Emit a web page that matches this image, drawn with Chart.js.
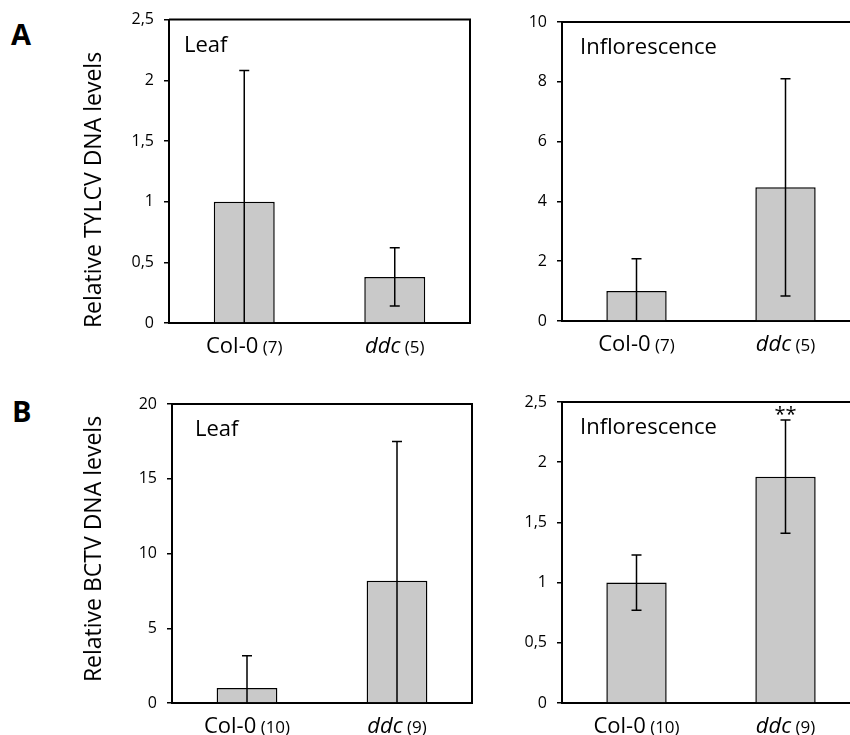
<!DOCTYPE html>
<html>
<head>
<meta charset="utf-8">
<script src="https://cdn.jsdelivr.net/npm/chart.js@4"></script>
<style>
  html, body { margin: 0; padding: 0; background: #fff; overflow: hidden; }
  body { width: 850px; height: 735px; position: relative; }
  canvas { position: absolute; }
  .letter { position: absolute; font: bold 29px "Open Sans"; line-height: 1; color: #000; }
</style>
</head>
<body>
<div class="letter" style="left:11px;top:19px">A</div>
<div class="letter" style="left:12px;top:396px">B</div>
<canvas id="tylcvLeaf" width="480" height="367" style="left:0;top:0"></canvas>
<canvas id="tylcvInfl" width="390" height="367" style="left:480px;top:0"></canvas>
<canvas id="bctvLeaf" width="480" height="368" style="left:0;top:367px"></canvas>
<canvas id="bctvInfl" width="390" height="368" style="left:480px;top:367px"></canvas>
<script>
const sampleLabels = ["Col-0", "ddc"];
const tylcvCounts = [7, 5];
const bctvCounts = [10, 9];

const tylcvLeafMeans = [1, 0.38];
const tylcvLeafErrors = [1.08, 0.24];
const tylcvInflMeans = [1, 4.47];
const tylcvInflErrors = [1.08, 3.63];
const bctvLeafMeans = [1, 8.17];
const bctvLeafErrors = [2.16, 9.33];
const bctvInflMeans = [1, 1.88];
const bctvInflErrors = [0.23, 0.47];
const bctvInflMarks = ["", "**"];

const tylcvLeafTicks = [0, 0.5, 1, 1.5, 2, 2.5];
const tylcvInflTicks = [0, 2, 4, 6, 8, 10];
const bctvLeafTicks = [0, 5, 10, 15, 20];
const bctvInflTicks = [0, 0.5, 1, 1.5, 2, 2.5];

Chart.defaults.font.family = "Open Sans";
Chart.defaults.color = "#000";

const FONT = "Open Sans";

function drawPanel(id, p) {
    const extras = {
        id: "extras",
        afterDatasetsDraw(chart) {
            const ctx = chart.ctx;
            const y = chart.scales.y;
            const meta = chart.getDatasetMeta(0);
            ctx.save();
            ctx.strokeStyle = "#000";
            ctx.lineWidth = 1.5;
            meta.data.forEach((bar, i) => {
                const hi = p.means[i] + p.errors[i];
                const lo = Math.max(0, p.means[i] - p.errors[i]);
                const yHi = y.getPixelForValue(hi);
                const yLo = y.getPixelForValue(lo);
                ctx.beginPath();
                ctx.moveTo(bar.x, yHi);
                ctx.lineTo(bar.x, yLo);
                ctx.moveTo(bar.x - 5, yHi);
                ctx.lineTo(bar.x + 5, yHi);
                if (lo > 0) {
                    ctx.moveTo(bar.x - 5, yLo);
                    ctx.lineTo(bar.x + 5, yLo);
                }
                ctx.stroke();
                if (p.marks && p.marks[i]) {
                    ctx.fillStyle = "#000";
                    ctx.font = "20px " + FONT;
                    ctx.textAlign = "center";
                    ctx.textBaseline = "alphabetic";
                    ctx.fillText(p.marks[i], bar.x, yHi + 1);
                }
            });
            ctx.restore();
        },
        afterDraw(chart) {
            const ctx = chart.ctx;
            const a = chart.chartArea;
            const x = chart.scales.x;
            ctx.save();
            // box: top and right edges
            ctx.strokeStyle = "#000";
            ctx.lineWidth = 2;
            ctx.beginPath();
            ctx.moveTo(a.left, a.top);
            ctx.lineTo(a.right, a.top);
            ctx.lineTo(a.right, a.bottom);
            ctx.stroke();

            ctx.fillStyle = "#000";
            ctx.textBaseline = "alphabetic";
            ctx.textAlign = "left";

            // tissue label
            ctx.font = "22px " + FONT;
            ctx.fillText(p.tissue, a.left + p.tissueDx, a.top + 32);

            // category labels with sample size
            sampleLabels.forEach((lab, i) => {
                const main = (i === 1 ? "italic " : "") + "22px " + FONT;
                const small = "17px " + FONT;
                const n = " (" + p.counts[i] + ")";
                ctx.font = main;
                const w1 = ctx.measureText(lab).width;
                ctx.font = small;
                const w2 = ctx.measureText(n).width;
                const cx = x.getPixelForValue(i);
                const sx = cx - (w1 + w2) / 2;
                ctx.font = main;
                ctx.fillText(lab, sx, a.bottom + 30);
                ctx.font = small;
                ctx.fillText(n, sx + w1, a.bottom + 30);
            });

            // y axis title
            if (p.yTitle) {
                ctx.translate(94, p.yTitleY);
                ctx.rotate(-Math.PI / 2);
                ctx.font = "23px " + FONT;
                ctx.textAlign = "center";
                ctx.textBaseline = "middle";
                ctx.fillText(p.yTitle, 0, 0);
            }
            ctx.restore();
        },
    };

    new Chart(document.getElementById(id), {
        type: "bar",
        data: {
            labels: sampleLabels,
            datasets: [
                {
                    data: p.means,
                    backgroundColor: "#c9c9c9",
                    borderColor: "#000",
                    borderWidth: 1.5,
                    barPercentage: 0.405,
                    categoryPercentage: 1,
                },
            ],
        },
        options: {
            responsive: false,
            animation: false,
            layout: {
                padding: { top: p.top, right: p.right, bottom: 0, left: 0 },
            },
            plugins: {
                legend: { display: false },
                tooltip: { enabled: false },
            },
            scales: {
                x: {
                    offset: true,
                    grid: { display: false },
                    ticks: { display: false },
                    border: { color: "#000", width: 2 },
                    afterFit(scale) {
                        scale.height = p.xHeight;
                    },
                },
                y: {
                    min: 0,
                    max: p.ticks[p.ticks.length - 1],
                    afterBuildTicks(scale) {
                        scale.ticks = p.ticks.map((v) => ({ value: v }));
                    },
                    ticks: {
                        padding: 10,
                        font: { size: 16 },
                        callback: (v) => String(v).replace(".", ","),
                    },
                    grid: {
                        drawOnChartArea: false,
                        drawTicks: true,
                        tickLength: 5,
                        color: "#000",
                        lineWidth: 1.5,
                    },
                    border: { color: "#000", width: 2 },
                    afterFit(scale) {
                        scale.width = p.yWidth;
                    },
                },
            },
        },
        plugins: [extras],
    });
}

drawPanel("tylcvLeaf", {
    means: tylcvLeafMeans, errors: tylcvLeafErrors, counts: tylcvCounts,
    ticks: tylcvLeafTicks, tissue: "Leaf", tissueDx: 15,
    yTitle: "Relative TYLCV DNA levels", yTitleY: 190,
    top: 19, right: 10, yWidth: 169, xHeight: 44,
});
drawPanel("tylcvInfl", {
    means: tylcvInflMeans, errors: tylcvInflErrors, counts: tylcvCounts,
    ticks: tylcvInflTicks, tissue: "Inflorescence", tissueDx: 18,
    top: 22, right: 10, yWidth: 82, xHeight: 46,
});
drawPanel("bctvLeaf", {
    means: bctvLeafMeans, errors: bctvLeafErrors, counts: bctvCounts,
    ticks: bctvLeafTicks, tissue: "Leaf", tissueDx: 23,
    yTitle: "Relative BCTV DNA levels", yTitleY: 182,
    top: 37, right: 8, yWidth: 172, xHeight: 32,
});
drawPanel("bctvInfl", {
    means: bctvInflMeans, errors: bctvInflErrors, counts: bctvCounts,
    marks: bctvInflMarks,
    ticks: bctvInflTicks, tissue: "Inflorescence", tissueDx: 18,
    top: 35, right: 10, yWidth: 82, xHeight: 32,
});
</script>
</body>
</html>
